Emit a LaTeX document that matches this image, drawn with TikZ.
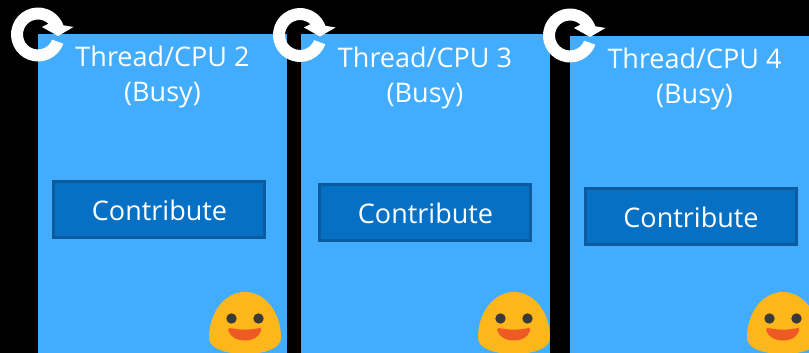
\documentclass[tikz,border=0pt]{standalone}
\usepackage{fontspec}
\setmainfont{Open Sans}
\definecolor{panelblue}{HTML}{42ADFF}
\definecolor{btnblue}{HTML}{0570C4}
\definecolor{btnedge}{HTML}{0A5C9E}
\definecolor{faceyel}{HTML}{FDB71B}
\definecolor{eyedark}{HTML}{3A3A3A}
\definecolor{mouthor}{HTML}{EE5A24}
\tikzset{
  x=1pt,y=-1pt,
  btn/.style={fill=btnblue,draw=btnedge,line width=3pt,minimum width=211pt,minimum height=56.5pt,inner sep=0pt,text=white,font=\fontsize{27}{27}\selectfont},
  btnlabel/.style={text=white,inner sep=0pt,font=\fontsize{27}{27}\selectfont},
  title/.style={text=white,align=center,font=\fontsize{27}{35}\selectfont,inner sep=0pt},
}
\newcommand{\refreshicon}[2]{%
  \begin{scope}[shift={(#1,#2)},x=1pt,y=1pt]
    \fill[white] (-20:27) arc[start angle=-20,end angle=-340,radius=27]
      -- (35.5,7.5) -- (20,-1.5) -- (4,7.5) -- (46:15)
      arc[start angle=46,end angle=340,radius=15] -- cycle;
  \end{scope}}
\newcommand{\smiley}[1]{%
  \begin{scope}[shift={(#1,0)}]
    \fill[faceyel] (-36,338) .. controls (-36,312) and (-20,292) .. (0,292) .. controls (20,292) and (36,312) .. (36,338) .. controls (36,349) and (18,354) .. (0,354) .. controls (-18,354) and (-36,349) .. (-36,338) -- cycle;
    \fill[eyedark] (-13.5,318.5) circle[radius=5.2];
    \fill[eyedark] (13.5,318.5) circle[radius=5.2];
    \fill[mouthor] (-17,330) .. controls (-17,327.5) and (-15,328) .. (-12,328.5) .. controls (-4,330) and (4,330) .. (12,328.5) .. controls (15,328) and (17,327.5) .. (16,331) .. controls (14,337) and (8,340.5) .. (0,340.5) .. controls (-8,340.5) and (-15,337) .. (-17,330) -- cycle;
  \end{scope}}
\begin{document}
\begin{tikzpicture}
\useasboundingbox (0,0) rectangle (809,353);
\fill[black] (0,0) rectangle (809,353);
\fill[panelblue] (38,34.5) rectangle (287,353);
\fill[panelblue] (301,34.5) rectangle (550,353);
\fill[panelblue] (570,36.5) rectangle (809,353);
\node[title] (t2) at (162.5,76.5) {Thread/CPU 2\\(Busy)};
\node[title] (t3) at (425,77.5) {Thread/CPU 3\\(Busy)};
\node[title] (t4) at (694.5,78.5) {Thread/CPU 4\\(Busy)};
\node[btn] (b2) at (159,209.5) {};
\node[btn] (b3) at (425,212.5) {};
\node[btn] (b4) at (691,216.5) {};
\node[btnlabel] (l2) at (159.5,210.5) {Contribute};
\node[btnlabel] (l3) at (425.5,213.5) {Contribute};
\node[btnlabel] (l4) at (691,217.5) {Contribute};
\begin{scope}
\clip (0,0) rectangle (550,353);
\smiley{245}
\smiley{514}
\end{scope}
\smiley{783}
\refreshicon{38}{34.5}
\refreshicon{300}{35}
\refreshicon{570}{35.5}
\end{tikzpicture}
\end{document}
